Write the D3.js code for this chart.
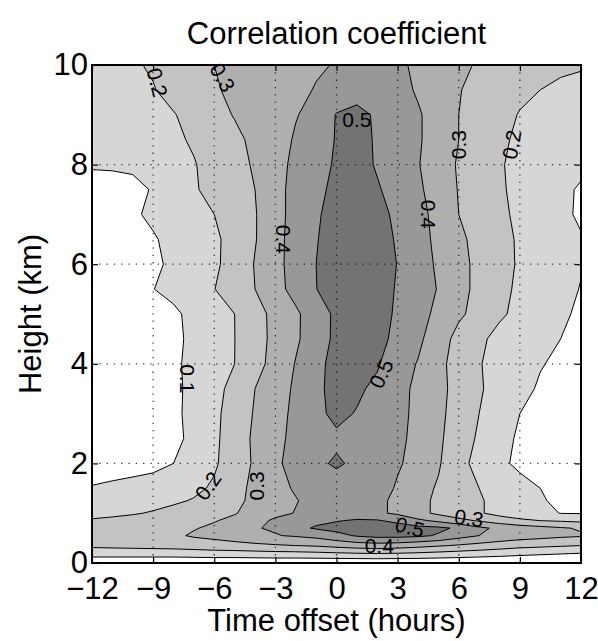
<!DOCTYPE html>
<html>
<head>
<meta charset="utf-8">
<script src="https://cdn.jsdelivr.net/npm/d3@7"></script>
<style>
  body { margin: 0; background: #fff; }
  text { font-family: "Liberation Sans", Arial, Helvetica, sans-serif; fill: #000; }
</style>
</head>
<body>
<div class="chart"></div>
<script>
// grid of the correlation field: time offset (hours) x height (km)
var timeOffsets = [-12, -11, -10, -9, -8, -7, -6, -5, -4, -3, -2, -1, 0, 1, 2, 3, 4, 5, 6, 7, 8, 9, 10, 11, 12];
var heights = [0, 0.15, 0.35, 0.55, 0.7, 0.85, 1.0, 1.25, 1.5, 2, 2.5, 3, 3.5, 4, 4.5, 5, 5.5, 6, 6.5, 7, 7.5, 8, 8.5, 9, 9.5, 10];

// one row per height, bottom to top
var correlation = [
  [0.02, 0.02, 0.02, 0.02, 0.02, 0.02, 0.02, 0.02, 0.02, 0.02, 0.02, 0.02, 0.02, 0.02, 0.02, 0.02, 0.02, 0.02, 0.02, 0.02, 0.02, 0.02, 0.02, 0.02, 0.02], // 0
  [0.12, 0.12, 0.12, 0.12, 0.12, 0.125, 0.13, 0.13, 0.135, 0.14, 0.14, 0.145, 0.15, 0.155, 0.16, 0.155, 0.15, 0.14, 0.13, 0.12, 0.11, 0.10, 0.09, 0.08, 0.07], // 0.15
  [0.22, 0.225, 0.23, 0.235, 0.24, 0.25, 0.26, 0.27, 0.28, 0.29, 0.30, 0.31, 0.33, 0.35, 0.36, 0.35, 0.33, 0.31, 0.29, 0.27, 0.25, 0.23, 0.22, 0.21, 0.20], // 0.35
  [0.25, 0.26, 0.27, 0.28, 0.285, 0.31, 0.325, 0.345, 0.37, 0.395, 0.41, 0.43, 0.47, 0.51, 0.53, 0.53, 0.52, 0.49, 0.44, 0.40, 0.37, 0.35, 0.335, 0.32, 0.31], // 0.55
  [0.235, 0.245, 0.255, 0.265, 0.28, 0.295, 0.315, 0.345, 0.395, 0.41, 0.475, 0.51, 0.53, 0.56, 0.57, 0.56, 0.53, 0.52, 0.485, 0.42, 0.38, 0.35, 0.33, 0.31, 0.29], // 0.7
  [0.205, 0.21, 0.22, 0.235, 0.25, 0.27, 0.295, 0.32, 0.36, 0.42, 0.45, 0.48, 0.495, 0.51, 0.51, 0.47, 0.42, 0.38, 0.33, 0.29, 0.25, 0.22, 0.20, 0.19, 0.18], // 0.85
  [0.185, 0.19, 0.195, 0.205, 0.22, 0.245, 0.27, 0.295, 0.33, 0.37, 0.405, 0.44, 0.46, 0.45, 0.415, 0.385, 0.33, 0.28, 0.24, 0.21, 0.17, 0.14, 0.12, 0.098, 0.095], // 1.0
  [0.15, 0.16, 0.17, 0.18, 0.19, 0.205, 0.24, 0.28, 0.32, 0.36, 0.395, 0.43, 0.455, 0.45, 0.425, 0.375, 0.33, 0.28, 0.245, 0.21, 0.17, 0.13, 0.105, 0.09, 0.085], // 1.25
  [0.11, 0.13, 0.15, 0.165, 0.175, 0.185, 0.21, 0.265, 0.325, 0.37, 0.41, 0.445, 0.465, 0.46, 0.44, 0.39, 0.335, 0.29, 0.25, 0.20, 0.165, 0.125, 0.10, 0.09, 0.085], // 1.5
  [0.025, 0.03, 0.04, 0.06, 0.10, 0.145, 0.19, 0.24, 0.315, 0.38, 0.44, 0.485, 0.51, 0.485, 0.455, 0.41, 0.37, 0.31, 0.23, 0.17, 0.115, 0.085, 0.07, 0.06, 0.055], // 2
  [0.025, 0.03, 0.035, 0.045, 0.07, 0.13, 0.185, 0.24, 0.32, 0.375, 0.425, 0.465, 0.485, 0.475, 0.455, 0.42, 0.375, 0.315, 0.255, 0.185, 0.135, 0.085, 0.075, 0.06, 0.055], // 2.5
  [0.025, 0.03, 0.035, 0.045, 0.075, 0.135, 0.185, 0.23, 0.31, 0.36, 0.425, 0.48, 0.52, 0.495, 0.47, 0.43, 0.375, 0.32, 0.265, 0.20, 0.15, 0.10, 0.08, 0.065, 0.06], // 3
  [0.03, 0.035, 0.04, 0.05, 0.075, 0.13, 0.18, 0.22, 0.30, 0.34, 0.42, 0.48, 0.53, 0.515, 0.48, 0.43, 0.38, 0.325, 0.27, 0.21, 0.165, 0.125, 0.09, 0.075, 0.065], // 3.5
  [0.035, 0.04, 0.045, 0.055, 0.08, 0.13, 0.17, 0.20, 0.27, 0.33, 0.405, 0.475, 0.53, 0.56, 0.51, 0.44, 0.395, 0.32, 0.27, 0.205, 0.17, 0.135, 0.105, 0.085, 0.075], // 4
  [0.04, 0.045, 0.05, 0.06, 0.08, 0.12, 0.16, 0.199, 0.27, 0.32, 0.385, 0.455, 0.52, 0.57, 0.535, 0.47, 0.42, 0.345, 0.27, 0.22, 0.17, 0.145, 0.12, 0.10, 0.085], // 4.5
  [0.045, 0.05, 0.06, 0.07, 0.08, 0.13, 0.16, 0.20, 0.26, 0.33, 0.385, 0.45, 0.52, 0.56, 0.54, 0.485, 0.43, 0.38, 0.315, 0.27, 0.215, 0.175, 0.14, 0.11, 0.09], // 5
  [0.05, 0.055, 0.065, 0.098, 0.13, 0.16, 0.198, 0.25, 0.30, 0.37, 0.43, 0.498, 0.55, 0.58, 0.55, 0.49, 0.445, 0.395, 0.33, 0.275, 0.23, 0.18, 0.14, 0.115, 0.098], // 5.5
  [0.055, 0.06, 0.07, 0.085, 0.115, 0.15, 0.185, 0.235, 0.305, 0.37, 0.44, 0.50, 0.55, 0.58, 0.55, 0.497, 0.445, 0.385, 0.33, 0.275, 0.23, 0.19, 0.15, 0.12, 0.103], // 6
  [0.06, 0.065, 0.075, 0.09, 0.13, 0.16, 0.185, 0.23, 0.295, 0.36, 0.45, 0.495, 0.54, 0.57, 0.54, 0.49, 0.44, 0.375, 0.32, 0.27, 0.225, 0.19, 0.15, 0.12, 0.105], // 6.5
  [0.07, 0.075, 0.085, 0.12, 0.155, 0.175, 0.20, 0.25, 0.295, 0.355, 0.445, 0.49, 0.53, 0.56, 0.53, 0.48, 0.43, 0.37, 0.30, 0.26, 0.22, 0.18, 0.14, 0.115, 0.09], // 7
  [0.08, 0.085, 0.085, 0.104, 0.15, 0.19, 0.23, 0.27, 0.30, 0.37, 0.43, 0.48, 0.52, 0.55, 0.51, 0.46, 0.415, 0.36, 0.295, 0.25, 0.215, 0.17, 0.13, 0.11, 0.095], // 7.5
  [0.105, 0.105, 0.11, 0.14, 0.17, 0.195, 0.23, 0.27, 0.31, 0.37, 0.42, 0.47, 0.51, 0.54, 0.49, 0.45, 0.405, 0.35, 0.29, 0.25, 0.21, 0.17, 0.14, 0.12, 0.11], // 8
  [0.12, 0.13, 0.15, 0.17, 0.185, 0.21, 0.25, 0.28, 0.32, 0.36, 0.41, 0.46, 0.505, 0.53, 0.49, 0.45, 0.41, 0.36, 0.30, 0.26, 0.22, 0.18, 0.16, 0.14, 0.13], // 8.5
  [0.13, 0.145, 0.16, 0.18, 0.195, 0.23, 0.27, 0.305, 0.33, 0.36, 0.395, 0.43, 0.505, 0.52, 0.49, 0.45, 0.41, 0.36, 0.30, 0.27, 0.23, 0.195, 0.18, 0.16, 0.15], // 9
  [0.15, 0.16, 0.18, 0.195, 0.23, 0.26, 0.29, 0.32, 0.34, 0.36, 0.38, 0.405, 0.44, 0.47, 0.47, 0.43, 0.39, 0.35, 0.305, 0.27, 0.24, 0.22, 0.20, 0.18, 0.17], // 9.5
  [0.16, 0.17, 0.19, 0.21, 0.24, 0.27, 0.30, 0.32, 0.34, 0.36, 0.37, 0.39, 0.405, 0.43, 0.44, 0.42, 0.38, 0.35, 0.32, 0.29, 0.26, 0.24, 0.22, 0.22, 0.21]  // 10
];

var levels = [0.1, 0.2, 0.3, 0.4, 0.5];
var levelFills = ["#d6d6d6", "#c3c3c3", "#afafaf", "#989898", "#737373"];

var xTicks = [-12, -9, -6, -3, 0, 3, 6, 9, 12];
var yTicks = [0, 2, 4, 6, 8, 10];

// inline contour labels: text, time, height, rotation
var labelText = ["0.2", "0.3", "0.5", "0.3", "0.2", "0.4", "0.4", "0.1", "0.5", "0.2", "0.3", "0.5", "0.3", "0.4"];
var labelTime = [-8.8, -5.6, 1.0, 6.0, 8.6, -2.6, 4.5, -7.3, 2.2, -6.3, -3.9, 3.6, 6.5, 2.1];
var labelHeight = [9.65, 9.75, 8.9, 8.4, 8.4, 6.5, 7.0, 3.7, 3.8, 1.55, 1.55, 0.72, 0.9, 0.34];
var labelAngle = [75, 60, 0, -90, -80, 90, 90, 90, -65, -55, -90, 15, 8, 0];

var svgWidth = 598;
var svgHeight = 641;

var margin = {
  top: 65,
  right: 17,
  bottom: 78,
  left: 92
};

var width = svgWidth - margin.left - margin.right;
var height = svgHeight - margin.top - margin.bottom;

var svg = d3
  .select(".chart")
  .append("svg")
  .attr("width", svgWidth)
  .attr("height", svgHeight);

var chartGroup = svg.append("g")
  .attr("transform", `translate(${margin.left}, ${margin.top})`);

var x = d3.scaleLinear().domain([-12, 12]).range([0, width]);
var y = d3.scaleLinear().domain([0, 10]).range([height, 0]);

// grid index -> data value (rows are unevenly spaced in height)
var nx = timeOffsets.length;
var ny = heights.length;
var xIndex = d3.scaleLinear().domain([0, nx - 1]).range([timeOffsets[0], timeOffsets[nx - 1]]).clamp(true);
var yIndex = d3.scaleLinear().domain(heights.map((h, i) => i)).range(heights).clamp(true);

var values = [];
correlation.forEach(row => row.forEach(v => values.push(v)));

var contours = d3.contours()
  .size([nx, ny])
  .thresholds(levels)(values);

var project = d3.geoTransform({
  point: function (px, py) {
    this.stream.point(x(xIndex(px - 0.5)), y(yIndex(py - 0.5)));
  }
});
var path = d3.geoPath(project);

chartGroup.append("g")
  .selectAll("path")
  .data(contours)
  .enter()
  .append("path")
  .attr("d", path)
  .attr("fill", (d, i) => levelFills[i])
  .attr("stroke", "#000")
  .attr("stroke-width", 1)
  .attr("stroke-linejoin", "round");

// dotted grid
var grid = chartGroup.append("g")
  .attr("stroke", "#000")
  .attr("stroke-width", 1.3)
  .attr("stroke-dasharray", "1.3,6")
  .attr("opacity", 0.75);

grid.selectAll("line.gx")
  .data(xTicks.slice(1, -1))
  .enter()
  .append("line")
  .attr("x1", d => x(d))
  .attr("x2", d => x(d))
  .attr("y1", 0)
  .attr("y2", height);

grid.selectAll("line.gy")
  .data(yTicks.slice(1, -1))
  .enter()
  .append("line")
  .attr("x1", 0)
  .attr("x2", width)
  .attr("y1", d => y(d))
  .attr("y2", d => y(d));

// contour labels
chartGroup.append("g")
  .selectAll("text")
  .data(labelText)
  .enter()
  .append("text")
  .attr("transform", (d, i) => `translate(${x(labelTime[i])}, ${y(labelHeight[i])}) rotate(${labelAngle[i]})`)
  .attr("text-anchor", "middle")
  .attr("dy", "0.35em")
  .style("font-size", "21px")
  .text(d => d);

// axes with inward ticks
var bottomAxis = d3.axisBottom(x).tickValues(xTicks).tickSize(-6).tickPadding(14);
var leftAxis = d3.axisLeft(y).tickValues(yTicks).tickSize(-6).tickPadding(4);

var xAxis = chartGroup.append("g")
  .attr("transform", `translate(0, ${height})`)
  .call(bottomAxis);

var yAxis = chartGroup.append("g")
  .call(leftAxis);

chartGroup.append("g")
  .call(d3.axisTop(x).tickValues(xTicks).tickSize(-6).tickFormat(""));

chartGroup.append("g")
  .attr("transform", `translate(${width}, 0)`)
  .call(d3.axisRight(y).tickValues(yTicks).tickSize(-6).tickFormat(""));

chartGroup.selectAll(".domain").remove();
chartGroup.selectAll(".tick line").attr("stroke", "#000").attr("stroke-width", 1.2);
chartGroup.selectAll(".tick text").style("font-size", "31px");

// frame
chartGroup.append("rect")
  .attr("width", width)
  .attr("height", height)
  .attr("fill", "none")
  .attr("stroke", "#000")
  .attr("stroke-width", 2);

// title and axis labels
svg.append("text")
  .attr("x", margin.left + width / 2)
  .attr("y", 44)
  .attr("text-anchor", "middle")
  .style("font-size", "31px")
  .text("Correlation coefficient");

svg.append("text")
  .attr("x", margin.left + width / 2)
  .attr("y", 631)
  .attr("text-anchor", "middle")
  .style("font-size", "31px")
  .text("Time offset (hours)");

svg.append("text")
  .attr("transform", `translate(41, ${margin.top + height / 2}) rotate(-90)`)
  .attr("text-anchor", "middle")
  .style("font-size", "31px")
  .text("Height (km)");
</script>
</body>
</html>
